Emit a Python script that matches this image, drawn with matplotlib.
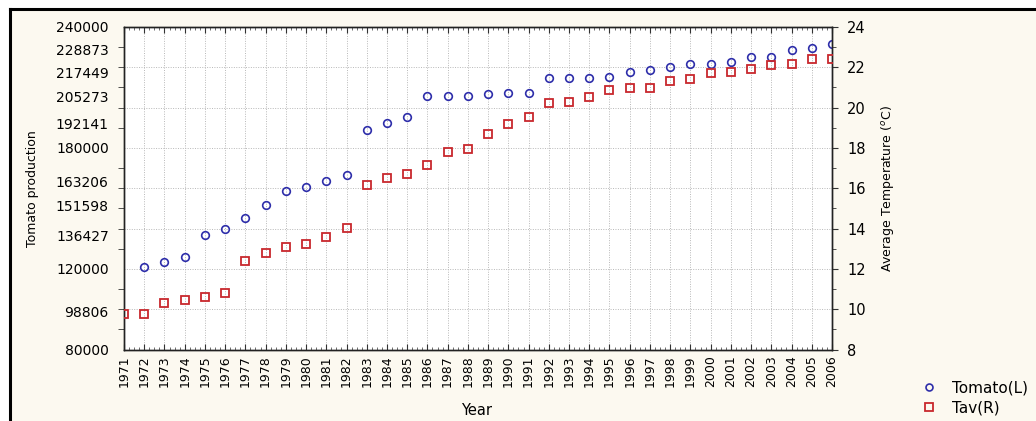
"""Tomato production and average temperature, 1971-2006"""
import matplotlib.pyplot as plt
import matplotlib as mpl
import numpy as np
from matplotlib.ticker import MultipleLocator

years = list(range(1971, 2007))

# tomato production (left axis), 1971 not recorded
tomato = [np.nan, 121100, 123400, 125900, 136700, 139600, 145200, 151700,
          158500, 160800, 163700, 166600, 189000, 192500, 195200, 205800,
          205800, 205700, 206900, 207400, 207400, 214800, 214800, 214800,
          215300, 217700, 218800, 220000, 221600, 221600, 222500, 225100,
          225100, 228700, 229400, 231600]

# average temperature (right axis)
tav = [9.78, 9.78, 10.32, 10.44, 10.62, 10.79, 12.40, 12.80, 13.08, 13.21,
       13.60, 14.03, 16.14, 16.49, 16.72, 17.17, 17.80, 17.93, 18.68, 19.19,
       19.53, 20.24, 20.29, 20.51, 20.86, 20.97, 20.97, 21.32, 21.40, 21.72,
       21.78, 21.90, 22.13, 22.18, 22.41, 22.41]

left_ticks = [80000, 98806, 120000, 136427, 151598, 163206, 180000,
              192141, 205273, 217449, 228873, 240000]
right_ticks = list(range(8, 25, 2))

cream = '#fcf9f0'
blue = '#2e2eaa'
red = '#c8282d'
grid_col = '#b8b8b8'

plt.rcParams['font.family'] = 'DejaVu Sans'

fig = plt.figure(figsize=(10.36, 4.21), dpi=100)
fig.patch.set_facecolor('white')

# cream panel with black frame on top and left
fig.patches.append(mpl.patches.Rectangle((10 / 1036, 0), 1, 1 - 9 / 421,
                                         transform=fig.transFigure,
                                         facecolor=cream, edgecolor='none',
                                         zorder=-10))
fig.lines.append(mpl.lines.Line2D([10 / 1036, 1], [1 - 9 / 421, 1 - 9 / 421],
                                  transform=fig.transFigure, color='black', lw=2.2))
fig.lines.append(mpl.lines.Line2D([10 / 1036, 10 / 1036], [0, 1 - 9 / 421],
                                  transform=fig.transFigure, color='black', lw=2.2))

ax = fig.add_axes([124 / 1036, 1 - 349.5 / 421, 708 / 1036, 322.5 / 421])
ax.set_facecolor('white')
ax2 = ax.twinx()

# grid: every year vertically, every 20000 horizontally
for yr in years:
    ax.axvline(yr, color=grid_col, lw=0.7, ls=(0, (1, 1.5)), zorder=0)
ax.hlines(np.arange(100000, 240000, 20000), years[0], years[-1],
          color=grid_col, lw=0.7, ls=(0, (1, 1.5)), zorder=0)

ax.plot(years, tomato, 'o', ms=5.5, mfc='none', mec=blue, mew=1.2,
        clip_on=True, zorder=3)
ax2.plot(years, tav, 's', ms=6, mfc='none', mec=red, mew=1.3,
         clip_on=True, zorder=3)

ax.set_xlim(years[0], years[-1])
ax.set_ylim(80000, 240000)
ax2.set_ylim(8, 24)

ax.set_xticks(years)
ax.set_xticklabels([str(y) for y in years], rotation=90, fontsize=9)
ax.xaxis.set_minor_locator(MultipleLocator(0.25))
ax.tick_params(axis='x', which='major', direction='in', length=4, top=True,
               pad=4, color='#333333')
ax.tick_params(axis='x', which='minor', direction='in', length=2, top=True,
               color='#555555')

ax.set_yticks(left_ticks)
ax.set_yticklabels([str(v) for v in left_ticks], fontsize=10)
ax.set_yticks(np.arange(80000, 240001, 10000), minor=True)
ax.tick_params(axis='y', which='major', length=0, pad=11)
ax.tick_params(axis='y', which='minor', length=4, color='#333333')

ax2.set_yticks(right_ticks)
ax2.set_yticklabels([str(v) for v in right_ticks], fontsize=10.5)
ax2.yaxis.set_minor_locator(MultipleLocator(1))
ax2.tick_params(axis='y', which='major', length=4, pad=7, color='#333333')
ax2.tick_params(axis='y', which='minor', length=3, color='#333333')

for spine in ax.spines.values():
    spine.set_color('#222222')
    spine.set_linewidth(1.0)
for spine in ax2.spines.values():
    spine.set_color('#222222')
    spine.set_linewidth(1.0)

ax.set_ylabel("Tomato production", fontsize=9)
ax.yaxis.set_label_coords(-0.12, 0.5)
ax2.set_ylabel(r"Average Temperature ($^o$C)", fontsize=9)
ax2.yaxis.set_label_coords(1.066, 0.5)
ax.set_xlabel("Year", fontsize=10.5)
ax.xaxis.set_label_coords(0.4986, -0.165)

h1 = mpl.lines.Line2D([], [], ls='none', marker='o', ms=5, mfc='none', mec=blue, mew=1.2)
h2 = mpl.lines.Line2D([], [], ls='none', marker='s', ms=5.5, mfc='none', mec=red, mew=1.3)
fig.legend([h1, h2], ["Tomato(L)", "Tav(R)"], loc='upper left',
           bbox_to_anchor=(912 / 1036, 1 - 373 / 421), frameon=False,
           fontsize=11, handletextpad=0.9, labelspacing=0.3,
           handlelength=1.2, borderpad=0)

fig.savefig('out.png', dpi=100, facecolor=fig.get_facecolor())
